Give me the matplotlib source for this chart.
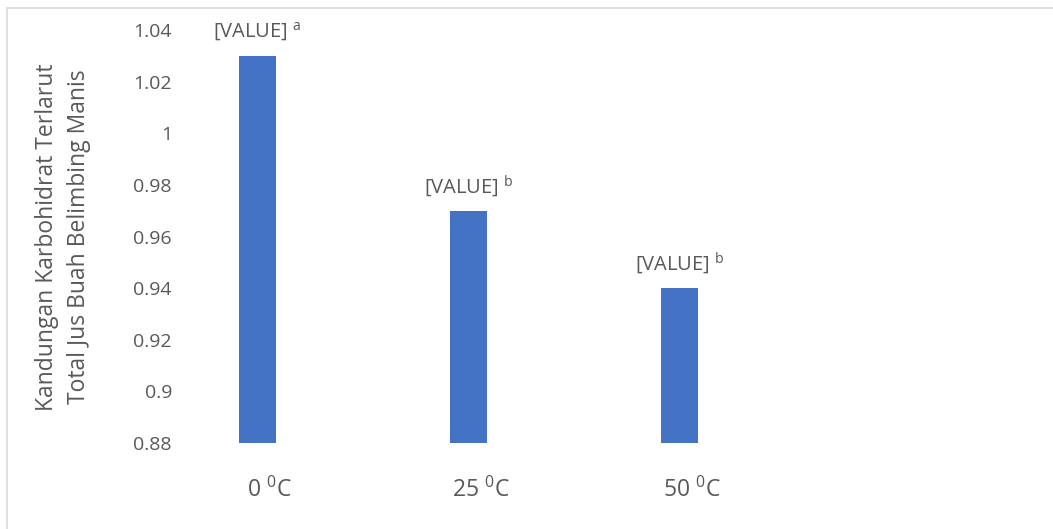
import matplotlib
matplotlib.use("Agg")
import matplotlib.pyplot as plt
import matplotlib.transforms as mtrans
from matplotlib.lines import Line2D

plt.rcParams['font.family'] = ['Open Sans', 'DejaVu Sans']
plt.rcParams['mathtext.fontset'] = 'custom'
plt.rcParams['mathtext.rm'] = 'Open Sans'

# data
categories = ["0 $^{\\mathregular{0}}$C", "25 $^{\\mathregular{0}}$C", "50 $^{\\mathregular{0}}$C"]
values = [1.03, 0.97, 0.94]
letters = ["a", "b", "b"]
y_ticks = [0.88, 0.9, 0.92, 0.94, 0.96, 0.98, 1, 1.02, 1.04]
y_ticklabels = ["0.88", "0.9", "0.92", "0.94", "0.96", "0.98", "1", "1.02", "1.04"]
ylabel = "Kandungan Karbohidrat Terlarut\nTotal Jus Buah Belimbing Manis"

txt = "#595959"
W, H = 1053, 529

fig = plt.figure(figsize=(W / 100, H / 100), dpi=100)
ax = fig.add_axes([183 / W, 1 - 443 / H, (996 - 183) / W, (443 - 30) / H])

x = list(range(len(categories)))
bars = ax.bar(x, values, width=0.175, color="#4472C4", bottom=0)
ax.set_ylim(0.88, 1.04)
ax.set_xlim(-0.353, 3.5)

for i in range(len(values)):
    ax.text(x[i], values[i] + 0.0095, "[VALUE] $^{\\mathregular{" + letters[i] + "}}$",
            ha="center", va="center", fontsize=14.5, color=txt)

ax.set_yticks(y_ticks)
ax.set_yticklabels(y_ticklabels, fontsize=14, color=txt)
ax.set_xticks(x)
ax.set_xticklabels(categories, fontsize=16.5, color=txt)
ax.tick_params(axis="y", length=0, pad=8)
ax.tick_params(axis="x", length=0, pad=25)
shift = mtrans.ScaledTranslation(12 / 100, 0, fig.dpi_scale_trans)
for lab in ax.get_xticklabels():
    lab.set_transform(lab.get_transform() + shift)
for s in ax.spines.values():
    s.set_visible(False)

fig.text(63 / W, 1 - 237 / H, ylabel, rotation=90, ha="center", va="center",
         fontsize=16.5, color=txt, linespacing=1.4, multialignment="center")

# outer chart border (only left and top visible)
fig.add_artist(Line2D([6.5 / W, 6.5 / W], [0, 1 - 7.5 / H], transform=fig.transFigure,
                      color="#d9d9d9", lw=1.2))
fig.add_artist(Line2D([6.5 / W, 1], [1 - 7.5 / H, 1 - 7.5 / H], transform=fig.transFigure,
                      color="#d9d9d9", lw=1.2))

fig.savefig("out.png", dpi=100)
